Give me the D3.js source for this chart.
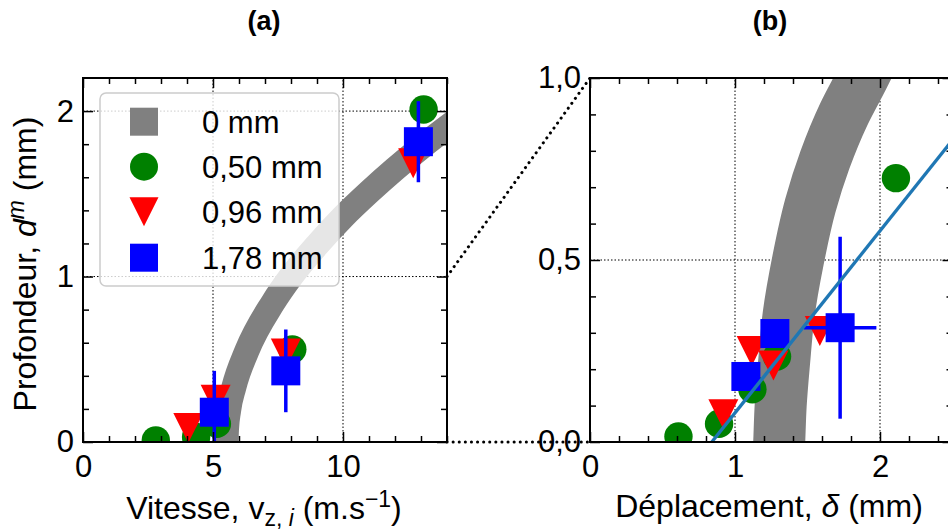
<!DOCTYPE html>
<html><head><meta charset="utf-8">
<script src="https://cdn.jsdelivr.net/npm/d3@7"></script>
<style>
html,body{margin:0;padding:0;background:#fff;overflow:hidden;}
svg{display:block;font-family:"Liberation Sans",Arial,sans-serif;}
</style></head>
<body>
<svg id="chart" width="948" height="531"></svg>
<script>
// ---------- Panel (a): depth vs velocity ----------
const legendLabels = ["0 mm", "0,50 mm", "0,96 mm", "1,78 mm"];
const bandV = [5.45, 5.5, 5.52, 5.6, 5.8, 6.3, 7.3, 8.0, 9.0, 10.0, 11.0, 12.0, 13.0, 14.5];
const bandD = [-0.1, 0, 0.08, 0.19, 0.33, 0.55, 0.84, 1.0, 1.19, 1.36, 1.51, 1.65, 1.78, 1.96];
const g50V = [2.8, 4.35, 5.15, 8.05, 13.1];
const g50D = [0.01, 0.03, 0.11, 0.56, 2.01];
const r96V = [4.05, 5.1, 7.8, 12.7];
const r96D = [0.085, 0.255, 0.535, 1.685];
const b178V = [5.05, 7.8, 12.9];
const b178D = [0.18, 0.43, 1.815];
const b178Err = [0.25, 0.25, 0.245];
const aXMajor = [0, 5, 10];
const aYMajor = [0, 1, 2];

// ---------- Panel (b): depth vs displacement ----------
const bandBD = [-0.05, 0, 0.1, 0.225, 0.35, 0.5, 0.65, 0.775, 0.9, 1.0, 1.08];
const bandBX = [1.30, 1.305, 1.315, 1.34, 1.37, 1.435, 1.52, 1.62, 1.75, 1.88, 1.98];
const gBX = [0.61, 0.89, 1.12, 1.29, 2.11];
const gBD = [0.015, 0.05, 0.145, 0.235, 0.725];
const rBX = [0.92, 1.115, 1.265, 1.585];
const rBD = [0.076, 0.25, 0.21, 0.305];
const bBX = [1.075, 1.275, 1.725];
const bBD = [0.18, 0.298, 0.314];
const bBErrX = [0, 0, 0.25];
const bBErrY = [0, 0, 0.25];
const fitX = [0.84, 2.6];
const fitD = [0, 0.88];
const bXMajor = [0, 1, 2];
const bYMajor = [0, 0.5, 1.0];
const bYLabels = ["0,0", "0,5", "1,0"];

const C = {gray:"#808080", green:"#008000", red:"#ff0000", blue:"#0000ff", fit:"#1f77b4"};
const FONT = 31;
const LFONT = 32;

const svg = d3.select("#chart");

// scales
const xA = d3.scaleLinear().domain([0, 14]).range([83, 447]);
const yA = d3.scaleLinear().domain([0, 2.2]).range([442, 78]);
const xB = d3.scaleLinear().domain([0, 2.5]).range([590, 952.5]);
const yB = d3.scaleLinear().domain([0, 1]).range([442, 78]);

const defs = svg.append("defs");
defs.append("clipPath").attr("id","clipA").append("rect")
  .attr("x", xA(0)).attr("y", yA(2.2)).attr("width", xA(14)-xA(0)).attr("height", yA(0)-yA(2.2));
defs.append("clipPath").attr("id","clipB").append("rect")
  .attr("x", xB(0)).attr("y", yB(1)).attr("width", xB(2.5)-xB(0)).attr("height", yB(0)-yB(1));

function grid(g, x, y, xv, yv) {
  const [x0, x1] = x.range(), [y0, y1] = y.range();
  g.selectAll(".gx").data(xv).join("line")
    .attr("x1", d=>x(d)).attr("x2", d=>x(d)).attr("y1", y0).attr("y2", y1)
    .attr("stroke","#000").attr("stroke-width",1).attr("stroke-dasharray","1.5,2");
  g.selectAll(".gy").data(yv).join("line")
    .attr("y1", d=>y(d)).attr("y2", d=>y(d)).attr("x1", x0).attr("x2", x1)
    .attr("stroke","#000").attr("stroke-width",1).attr("stroke-dasharray","1.5,2");
}

function tri(cx, cy, s) {
  return `M${cx-s/2},${cy-s/2}L${cx+s/2},${cy-s/2}L${cx},${cy+s/2}Z`;
}

function markers(g, x, y, gx, gy, rx, ry) {
  g.selectAll(".c").data(gx.map((v,i)=>[v, gy[i]])).join("circle")
    .attr("cx", d=>x(d[0])).attr("cy", d=>y(d[1])).attr("r", 14.2).attr("fill", C.green);
  g.selectAll(".t").data(rx.map((v,i)=>[v, ry[i]])).join("path")
    .attr("d", d=>tri(x(d[0]), y(d[1]), 30)).attr("fill", C.red);
}

function squares(g, x, y, bx, by) {
  g.selectAll(".s").data(bx.map((v,i)=>[v, by[i]])).join("rect")
    .attr("x", d=>x(d[0])-14.5).attr("y", d=>y(d[1])-14.5).attr("width",29).attr("height",29)
    .attr("fill", C.blue);
}

function axes(g, x, y, xMaj, xMin, yMaj, yMin, xFmt, yFmt) {
  const [x0, x1] = x.range(), [y0, y1] = y.range();
  const setFont = sel => sel.attr("font-family", "'Liberation Sans',Arial,sans-serif").attr("font-size", FONT);
  const style = sel => { sel.select(".domain").remove(); sel.selectAll(".tick line").attr("stroke","#000").attr("stroke-width",1.5); sel.selectAll("text").attr("fill","#000"); setFont(sel); };
  g.append("g").attr("transform",`translate(0,${y0})`)
    .call(d3.axisBottom(x).tickValues(xMaj).tickSize(-10).tickPadding(13).tickFormat(xFmt)).call(style);
  g.append("g").attr("transform",`translate(0,${y0})`)
    .call(d3.axisBottom(x).tickValues(xMin).tickSize(-6).tickFormat("")).call(style);
  g.append("g").attr("transform",`translate(0,${y1})`)
    .call(d3.axisTop(x).tickValues(xMaj).tickSize(-10).tickFormat("")).call(style);
  g.append("g").attr("transform",`translate(0,${y1})`)
    .call(d3.axisTop(x).tickValues(xMin).tickSize(-6).tickFormat("")).call(style);
  g.append("g").attr("transform",`translate(${x0},0)`)
    .call(d3.axisLeft(y).tickValues(yMaj).tickSize(-10).tickPadding(9).tickFormat(yFmt)).call(style);
  g.append("g").attr("transform",`translate(${x0},0)`)
    .call(d3.axisLeft(y).tickValues(yMin).tickSize(-6).tickFormat("")).call(style);
  g.append("g").attr("transform",`translate(${x1},0)`)
    .call(d3.axisRight(y).tickValues(yMaj).tickSize(-10).tickFormat("")).call(style);
  g.append("g").attr("transform",`translate(${x1},0)`)
    .call(d3.axisRight(y).tickValues(yMin).tickSize(-6).tickFormat("")).call(style);
  g.append("rect").attr("x", x0).attr("y", y1).attr("width", x1-x0).attr("height", y0-y1)
    .attr("fill","none").attr("stroke","#000").attr("stroke-width",2);
}

// ================= Panel (a) =================
const gA = svg.append("g");
grid(gA, xA, yA, [5, 10], [1, 2]);
const dA = gA.append("g").attr("clip-path","url(#clipA)");
dA.append("path")
  .attr("d", d3.line().x(d=>xA(d[0])).y(d=>yA(d[1])).curve(d3.curveMonotoneX)(bandV.map((v,i)=>[v, bandD[i]])))
  .attr("fill","none").attr("stroke", C.gray).attr("stroke-width", 25);
markers(dA, xA, yA, g50V, g50D, r96V, r96D);
dA.selectAll(".eb").data(b178V.map((v,i)=>[v, b178D[i], b178Err[i]])).join("line")
  .attr("x1", d=>xA(d[0])).attr("x2", d=>xA(d[0]))
  .attr("y1", d=>yA(d[1]-d[2])).attr("y2", d=>yA(d[1]+d[2]))
  .attr("stroke", C.blue).attr("stroke-width", 3.5);
squares(dA, xA, yA, b178V, b178D);

const xMinA = d3.range(0, 15, 1).filter(v=>v%5!==0);
const yMinA = d3.range(0, 11).map(i=>+(i*0.2).toFixed(1)).filter(v=>v%1!==0);
axes(gA, xA, yA, aXMajor, xMinA, aYMajor, yMinA, d=>String(d), d=>String(d));

// legend
const lg = gA.append("g");
lg.append("rect").attr("x",100).attr("y",93).attr("width",239).attr("height",193).attr("rx",6)
  .attr("fill","#fff").attr("fill-opacity",0.8).attr("stroke","#cccccc").attr("stroke-width",1.5);
const rowY = [121.7, 166.7, 211.7, 257.7];
lg.append("rect").attr("x",130).attr("y",rowY[0]-14).attr("width",28).attr("height",28).attr("fill",C.gray);
lg.append("circle").attr("cx",144).attr("cy",rowY[1]).attr("r",14).attr("fill",C.green);
lg.append("path").attr("d",tri(144,rowY[2],29)).attr("fill",C.red);
lg.append("rect").attr("x",130).attr("y",rowY[3]-14).attr("width",28).attr("height",28).attr("fill",C.blue);
lg.selectAll(".lt").data(legendLabels).join("text")
  .attr("x",202).attr("y",(d,i)=>rowY[i]+11).attr("font-size",FONT).attr("fill","#000").text(d=>d);

// ================= Panel (b) =================
const gB = svg.append("g");
grid(gB, xB, yB, [1, 2], [0.5]);
const dB = gB.append("g").attr("clip-path","url(#clipB)");
dB.append("path")
  .attr("d", d3.line().x(d=>xB(d[0])).y(d=>yB(d[1])).curve(d3.curveMonotoneY)(bandBX.map((v,i)=>[v, bandBD[i]])))
  .attr("fill","none").attr("stroke", C.gray).attr("stroke-width", 52);
markers(dB, xB, yB, gBX, gBD, rBX, rBD);
const ebB = bBX.map((v,i)=>[v, bBD[i], bBErrX[i], bBErrY[i]]).filter(d=>d[2]>0||d[3]>0);
dB.selectAll(".ebx").data(ebB).join("line")
  .attr("x1", d=>xB(d[0]-d[2])).attr("x2", d=>xB(d[0]+d[2]))
  .attr("y1", d=>yB(d[1])).attr("y2", d=>yB(d[1]))
  .attr("stroke", C.blue).attr("stroke-width", 3.5);
dB.selectAll(".eby").data(ebB).join("line")
  .attr("x1", d=>xB(d[0])).attr("x2", d=>xB(d[0]))
  .attr("y1", d=>yB(d[1]-d[3])).attr("y2", d=>yB(d[1]+d[3]))
  .attr("stroke", C.blue).attr("stroke-width", 3.5);
squares(dB, xB, yB, bBX, bBD);
dB.append("path")
  .attr("d", d3.line().x(d=>xB(d[0])).y(d=>yB(d[1]))(fitX.map((v,i)=>[v, fitD[i]])))
  .attr("fill","none").attr("stroke", C.fit).attr("stroke-width", 3.3);

const xMinB = d3.range(0, 13).map(i=>+(i*0.2).toFixed(1)).filter(v=>v%1!==0);
const yMinB = d3.range(0, 11).map(i=>+(i*0.1).toFixed(1)).filter(v=>(v*10)%5!==0);
axes(gB, xB, yB, bXMajor, xMinB, bYMajor, yMinB, d=>String(d), (d,i)=>bYLabels[i]);

// ================= connectors (zoom) =================
const conn = [[[xA(14), yA(1)], [xB(0), yB(1)]], [[xA(14), yA(0)], [xB(0), yB(0)]]];
svg.selectAll(".conn").data(conn).join("line")
  .attr("x1", d=>d[0][0]).attr("y1", d=>d[0][1]).attr("x2", d=>d[1][0]).attr("y2", d=>d[1][1])
  .attr("stroke","#000").attr("stroke-width",3).attr("stroke-linecap","round").attr("stroke-dasharray","0.1,6");

// ================= titles and labels =================
svg.append("text").attr("x", 264).attr("y", 30).attr("text-anchor","middle")
  .attr("font-size",27).attr("font-weight","bold").text("(a)");
svg.append("text").attr("x", 770).attr("y", 30).attr("text-anchor","middle")
  .attr("font-size",27).attr("font-weight","bold").text("(b)");

const xlA = svg.append("text").attr("x", 264).attr("y", 519).attr("text-anchor","middle").attr("font-size",LFONT);
xlA.append("tspan").text("Vitesse, v");
xlA.append("tspan").attr("font-size",23).attr("dy",7).text("z, ");
xlA.append("tspan").attr("font-size",23).attr("font-style","italic").text("i");
xlA.append("tspan").attr("dy",-7).text(" (m.s");
xlA.append("tspan").attr("font-size",23).attr("dy",-12).text("\u22121");
xlA.append("tspan").attr("dy",12).text(")");

const xlB = svg.append("text").attr("x", 769).attr("y", 517).attr("text-anchor","middle").attr("font-size",LFONT);
xlB.append("tspan").text("Déplacement, ");
xlB.append("tspan").attr("font-style","italic").text("δ");
xlB.append("tspan").text(" (mm)");

const ylA = svg.append("text").attr("transform","translate(36,264) rotate(-90)").attr("text-anchor","middle").attr("font-size",LFONT);
ylA.append("tspan").text("Profondeur, ");
ylA.append("tspan").attr("font-style","italic").text("d");
ylA.append("tspan").attr("font-style","italic").attr("font-size",23).attr("dy",-12).text("m");
ylA.append("tspan").attr("dy",12).text(" (mm)");
</script>
</body></html>
